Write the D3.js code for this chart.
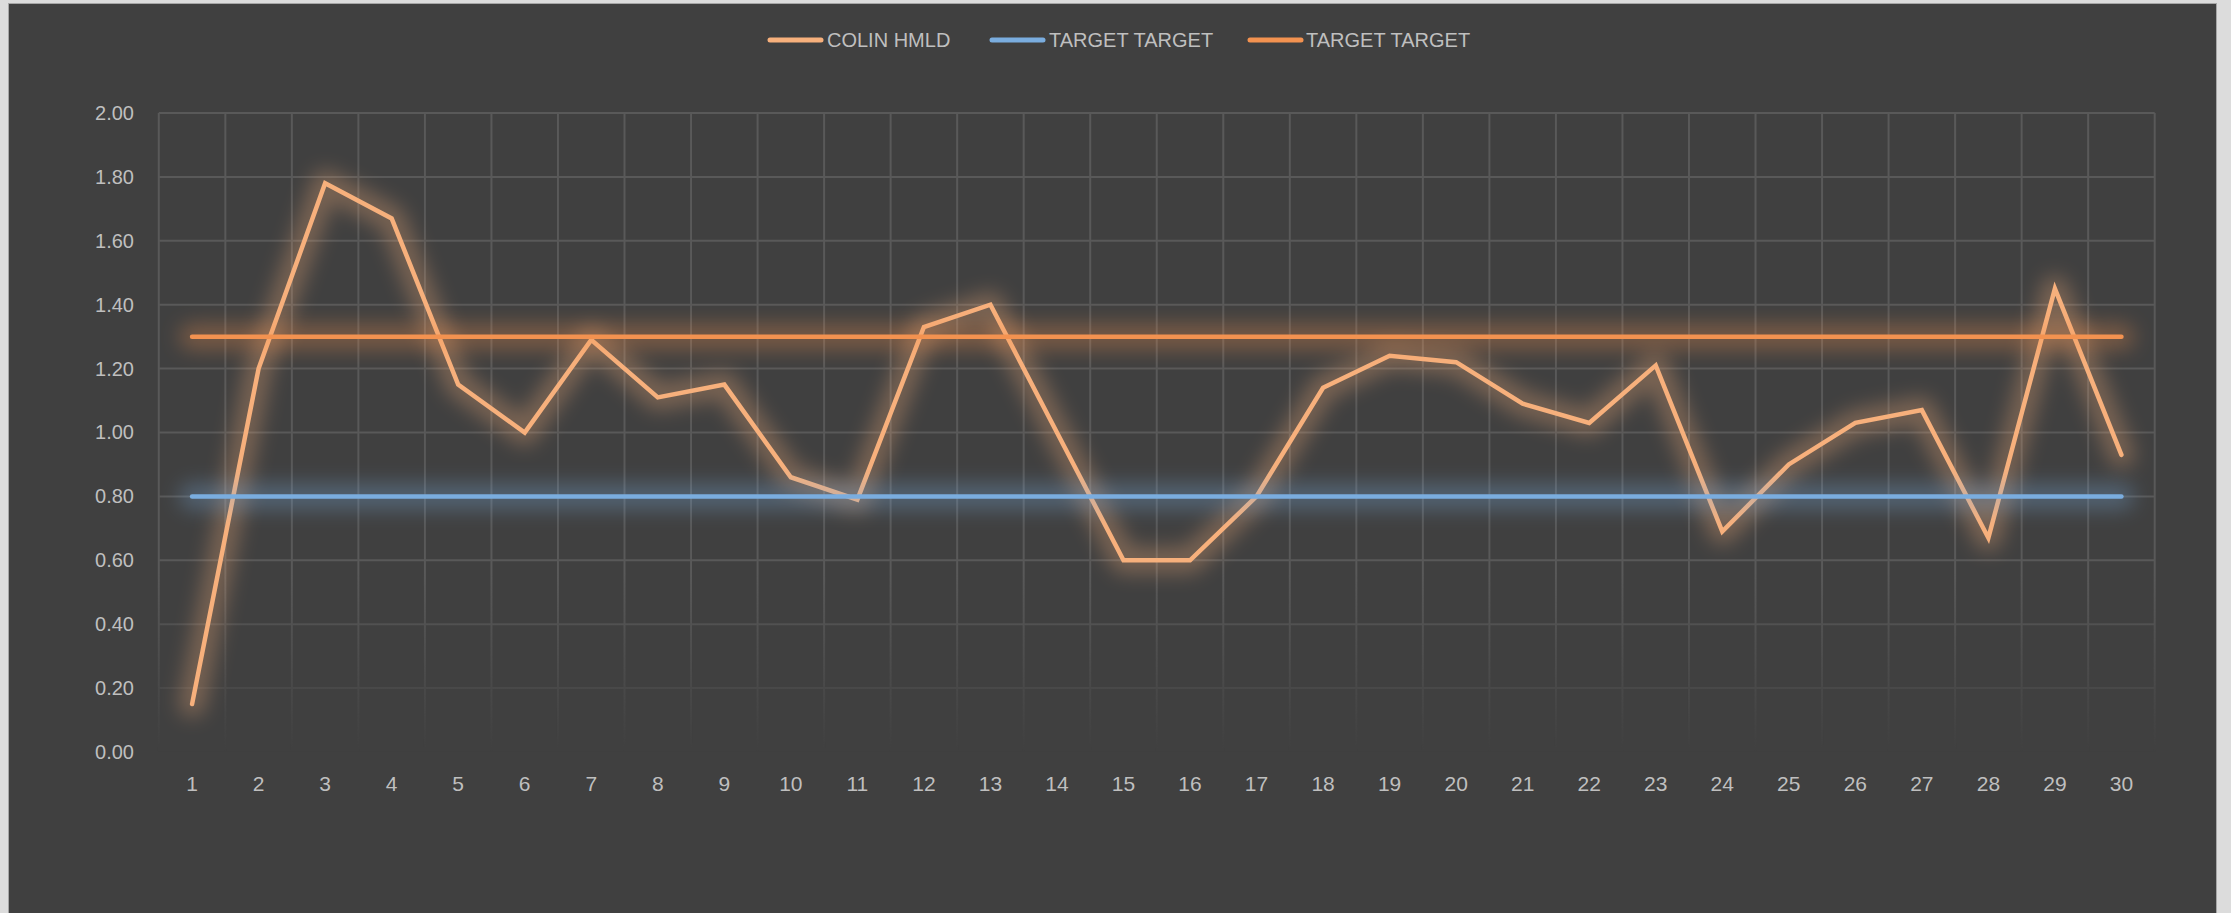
<!DOCTYPE html>
<html>
<head>
<meta charset="utf-8">
<script src="https://cdn.jsdelivr.net/npm/d3@7"></script>
<style>
  html, body { margin: 0; padding: 0; background: #dcdcdc; }
  svg { display: block; }
  text { font-family: "Liberation Sans", Arial, sans-serif; fill: #bfbfbf; }
</style>
</head>
<body>
<svg id="chart" width="2231" height="913"></svg>
<script>
// Day numbers along the x axis
const days = [1,2,3,4,5,6,7,8,9,10,11,12,13,14,15,16,17,18,19,20,21,22,23,24,25,26,27,28,29,30];

// Measured HMLD values per day
const colinHmld = [0.15,1.20,1.78,1.67,1.15,1.00,1.29,1.11,1.15,0.86,
                   0.79,1.33,1.40,1.00,0.60,0.60,0.80,1.14,1.24,1.22,
                   1.09,1.03,1.21,0.69,0.90,1.03,1.07,0.67,1.45,0.93];

// Lower and upper target bands
const targetLow  = [0.80,0.80,0.80,0.80,0.80,0.80,0.80,0.80,0.80,0.80,
                    0.80,0.80,0.80,0.80,0.80,0.80,0.80,0.80,0.80,0.80,
                    0.80,0.80,0.80,0.80,0.80,0.80,0.80,0.80,0.80,0.80];
const targetHigh = [1.30,1.30,1.30,1.30,1.30,1.30,1.30,1.30,1.30,1.30,
                    1.30,1.30,1.30,1.30,1.30,1.30,1.30,1.30,1.30,1.30,
                    1.30,1.30,1.30,1.30,1.30,1.30,1.30,1.30,1.30,1.30];

const yTicks = [0,0.2,0.4,0.6,0.8,1.0,1.2,1.4,1.6,1.8,2.0];
const seriesNames = ["COLIN HMLD", "TARGET TARGET", "TARGET TARGET"];
const seriesColors = ["#f7b07c", "#7aaddf", "#f39250"];

const svg = d3.select("#chart");
const W = 2231, H = 913;
const plot = { left: 158.8, right: 2154.7, top: 113, bottom: 752 };

// chart panel
svg.append("rect")
  .attr("x", 8.5).attr("y", 3.5)
  .attr("width", 2208).attr("height", H + 10)
  .attr("fill", "#404040")
  .attr("stroke", "#a6a6a6").attr("stroke-width", 1);

const defs = svg.append("defs");
const glow = defs.append("filter").attr("id", "glow")
  .attr("filterUnits", "userSpaceOnUse")
  .attr("x", 0).attr("y", 0).attr("width", W).attr("height", H);
glow.append("feGaussianBlur").attr("stdDeviation", 10);

// gridlines fade toward the bottom of the plot
const fade = defs.append("linearGradient").attr("id", "fadeGrad")
  .attr("gradientUnits", "userSpaceOnUse")
  .attr("x1", 0).attr("x2", 0).attr("y1", plot.top).attr("y2", plot.bottom);
fade.append("stop").attr("offset", "0.72").attr("stop-color", "#fff");
fade.append("stop").attr("offset", "1").attr("stop-color", "#000");
defs.append("mask").attr("id", "fadeMask")
  .attr("maskUnits", "userSpaceOnUse")
  .attr("x", 0).attr("y", 0).attr("width", W).attr("height", H)
  .append("rect").attr("x", 0).attr("y", 0).attr("width", W).attr("height", H)
  .attr("fill", "url(#fadeGrad)");

const x = d3.scaleBand().domain(days).range([plot.left, plot.right]).padding(0);
const y = d3.scaleLinear().domain([0, 2]).range([plot.bottom, plot.top]);
const cx = d => x(d) + x.bandwidth() / 2;

// grid
const grid = svg.append("g").attr("mask", "url(#fadeMask)")
  .attr("stroke", "#595959").attr("stroke-width", 2);
grid.selectAll("line.h").data(yTicks).join("line")
  .attr("x1", plot.left).attr("x2", plot.right)
  .attr("y1", d => y(d)).attr("y2", d => y(d));
const bounds = days.map(d => x(d)).concat([x(days[days.length - 1]) + x.bandwidth()]);
grid.selectAll("line.v").data(bounds).join("line")
  .attr("y1", plot.top).attr("y2", plot.bottom)
  .attr("x1", d => d).attr("x2", d => d);

// y axis labels
const yAxis = d3.axisLeft(y).tickValues(yTicks).tickFormat(d3.format(".2f")).tickSize(0).tickPadding(0);
const ya = svg.append("g").attr("transform", `translate(134,0)`).call(yAxis);
ya.select(".domain").remove();
ya.selectAll("text").attr("font-size", 20).attr("fill", "#bcbcbc")
  .style("font-family", "'Liberation Sans', Arial, sans-serif");

// x axis labels
const xAxis = d3.axisBottom(x).tickSize(0).tickPadding(0);
const xa = svg.append("g").attr("transform", `translate(0,776)`).call(xAxis);
xa.select(".domain").remove();
xa.selectAll("text").attr("font-size", 21).attr("fill", "#bcbcbc")
  .style("font-family", "'Liberation Sans', Arial, sans-serif");

// series: soft halo underneath, crisp line on top
const line = d3.line().x((d, i) => cx(days[i])).y(d => y(d));
const allSeries = [colinHmld, targetLow, targetHigh];
allSeries.forEach((vals, k) => {
  const g = svg.append("g");
  g.append("path").datum(vals)
    .attr("d", line).attr("fill", "none")
    .attr("stroke", seriesColors[k]).attr("stroke-width", 26)
    .attr("stroke-linejoin", "round").attr("stroke-linecap", "round")
    .attr("opacity", 0.32).attr("filter", "url(#glow)");
  g.append("path").datum(vals)
    .attr("d", line).attr("fill", "none")
    .attr("stroke", seriesColors[k]).attr("stroke-width", 4.5)
    .attr("stroke-linejoin", "miter").attr("stroke-linecap", "round");
});

// legend
const legendItems = [
  { x: 768, w: 55, tx: 827 },
  { x: 990, w: 55, tx: 1049 },
  { x: 1248, w: 55, tx: 1306 }
];
const lg = svg.append("g");
legendItems.forEach((it, k) => {
  lg.append("line")
    .attr("x1", it.x + 2).attr("x2", it.x + it.w - 2)
    .attr("y1", 40).attr("y2", 40)
    .attr("stroke", seriesColors[k]).attr("stroke-width", 5)
    .attr("stroke-linecap", "round");
  lg.append("text")
    .attr("x", it.tx).attr("y", 40)
    .attr("dy", "0.36em")
    .attr("font-size", 20)
    .text(seriesNames[k]);
});
</script>
</body>
</html>
